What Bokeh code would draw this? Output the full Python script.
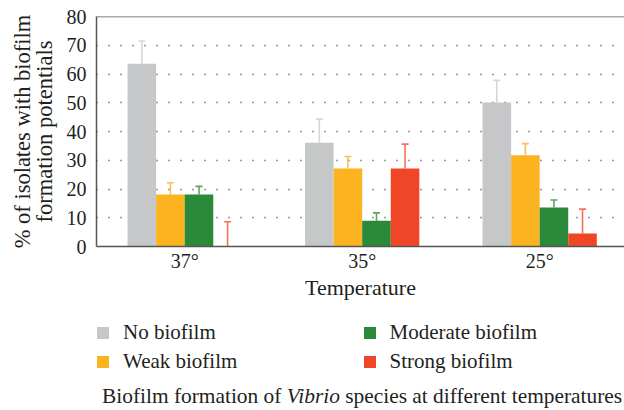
from bokeh.plotting import figure
from bokeh.models import (Range1d, FixedTicker, Whisker, TeeHead, ColumnDataSource,
                          Legend, LegendItem, Span, Div)
from bokeh.layouts import column
from bokeh.embed import file_html
from bokeh.resources import INLINE

# ---- data ----
temperatures = ["37°", "35°", "25°"]
series = ["No biofilm", "Weak biofilm", "Moderate biofilm", "Strong biofilm"]
no_biofilm = [63.6, 36.1, 50.1]
weak_biofilm = [18.1, 27.1, 31.7]
moderate_biofilm = [18.1, 9.0, 13.6]
strong_biofilm = [0.0, 27.1, 4.5]
no_err = [7.9, 8.2, 7.7]
weak_err = [4.1, 4.2, 4.1]
moderate_err = [2.8, 2.7, 2.6]
strong_err = [8.6, 8.5, 8.5]

values = [no_biofilm, weak_biofilm, moderate_biofilm, strong_biofilm]
errors = [no_err, weak_err, moderate_err, strong_err]
bar_colors = ["#c6c7c9", "#fbb41f", "#2b8a3a", "#ee4626"]
err_colors = ["#d6d7d9", "#f9c250", "#5ea466", "#f0725c"]

FONT = "Liberation Serif"
TXT = "#231f20"

# ---------------- main chart ----------------
p = figure(frame_width=528, frame_height=230, output_backend="svg", toolbar_location=None,
           x_range=Range1d(-0.497, 2.478), y_range=Range1d(0, 80),
           min_border_left=96, min_border_right=0, min_border_top=16,
           min_border_bottom=62)
p.outline_line_color = None
p.background_fill_color = "white"

bar_w = 0.161
offsets = [-1.5 * bar_w, -0.5 * bar_w, 0.5 * bar_w, 1.5 * bar_w]
for k in range(4):
    xs = [i + offsets[k] for i in range(len(temperatures))]
    tops = values[k]
    ups = [v + e for v, e in zip(values[k], errors[k])]
    src = ColumnDataSource(dict(x=xs, top=tops, up=ups))
    p.vbar(x="x", top="top", bottom=0, width=bar_w, source=src,
           fill_color=bar_colors[k], line_color=None)
    w = Whisker(source=src, base="x", lower="top", upper="up",
                line_color=err_colors[k], line_width=1.6,
                lower_head=None,
                upper_head=TeeHead(size=7, line_color=err_colors[k], line_width=1.6))
    p.add_layout(w)

# top border
p.add_layout(Span(location=80, dimension="width", line_color="#555555", line_width=1.5))

# axes
p.xaxis.ticker = FixedTicker(ticks=[0, 1, 2])
p.xaxis.major_label_overrides = {i: t for i, t in enumerate(temperatures)}
p.yaxis.ticker = FixedTicker(ticks=list(range(0, 81, 10)))
for ax in (p.xaxis[0], p.yaxis[0]):
    ax.axis_line_color = "#555555"
    ax.axis_line_width = 1.5
    ax.major_tick_line_color = None
    ax.minor_tick_line_color = None
    ax.major_tick_out = 0
    ax.major_tick_in = 0
    ax.major_label_text_font = FONT
    ax.major_label_text_font_size = "20px"
    ax.major_label_text_color = TXT
    ax.axis_label_text_font = FONT
    ax.axis_label_text_font_style = "normal"
    ax.axis_label_text_color = TXT

p.xaxis.axis_label = "Temperature"
p.xaxis.axis_label_text_font_size = "22px"
p.xaxis.major_label_standoff = 3
p.xaxis.axis_label_standoff = 0
p.yaxis.axis_label = "% of isolates with biofilm\nformation potentials"
p.yaxis.axis_label_text_font_size = "22.5px"
p.yaxis.axis_label_text_line_height = 0.88
p.yaxis.major_label_standoff = 10
p.yaxis.axis_label_standoff = 7

p.xgrid.grid_line_color = None
p.ygrid.grid_line_color = "#333333"
p.ygrid.grid_line_dash = "1 11"
p.ygrid.grid_line_width = 1.3

# ---------------- legend strip ----------------
lf = figure(width=624, height=74, output_backend="svg", toolbar_location=None,
            x_axis_type=None, y_axis_type=None,
            x_range=Range1d(0, 1), y_range=Range1d(0, 1),
            min_border_left=0, min_border_right=0, min_border_top=0, min_border_bottom=0)
lf.outline_line_color = None
lf.background_fill_color = "white"
swatches = []
for k in range(4):
    # zero-size bar: only its style is used, for the legend swatch
    s = ColumnDataSource(dict(x=[0.0], top=[0.0]))
    swatches.append(lf.vbar(x="x", top="top", bottom=0, width=0, source=s,
                            fill_color=bar_colors[k], line_color=None))

common = dict(orientation="vertical", glyph_width=15, glyph_height=15, label_standoff=13,
              label_height=23, spacing=4, padding=0, margin=0,
              border_line_color=None, background_fill_alpha=0,
              label_text_font=FONT, label_text_font_size="21px",
              label_text_font_style="normal", label_text_color=TXT)
leg1 = Legend(items=[LegendItem(label=series[0], renderers=[swatches[0]]),
                     LegendItem(label=series[1], renderers=[swatches[1]])],
              location=(-1, 8), **common)
leg2 = Legend(items=[LegendItem(label=series[2], renderers=[swatches[2]]),
                     LegendItem(label=series[3], renderers=[swatches[3]])],
              location=(265.5, 8), **common)
lf.add_layout(leg1)
lf.add_layout(leg2)

# ---------------- caption ----------------
caption = Div(text='Biofilm formation of <i>Vibrio</i> species at different temperatures',
              width=624, height=24, margin=0,
              styles={"font-family": FONT, "font-size": "21.4px", "color": TXT,
                      "line-height": "28px", "padding-left": "102px",
                      "white-space": "nowrap"})

layout = column(p, lf, caption, spacing=0)
open("out.html", "w").write(file_html(layout, INLINE))
